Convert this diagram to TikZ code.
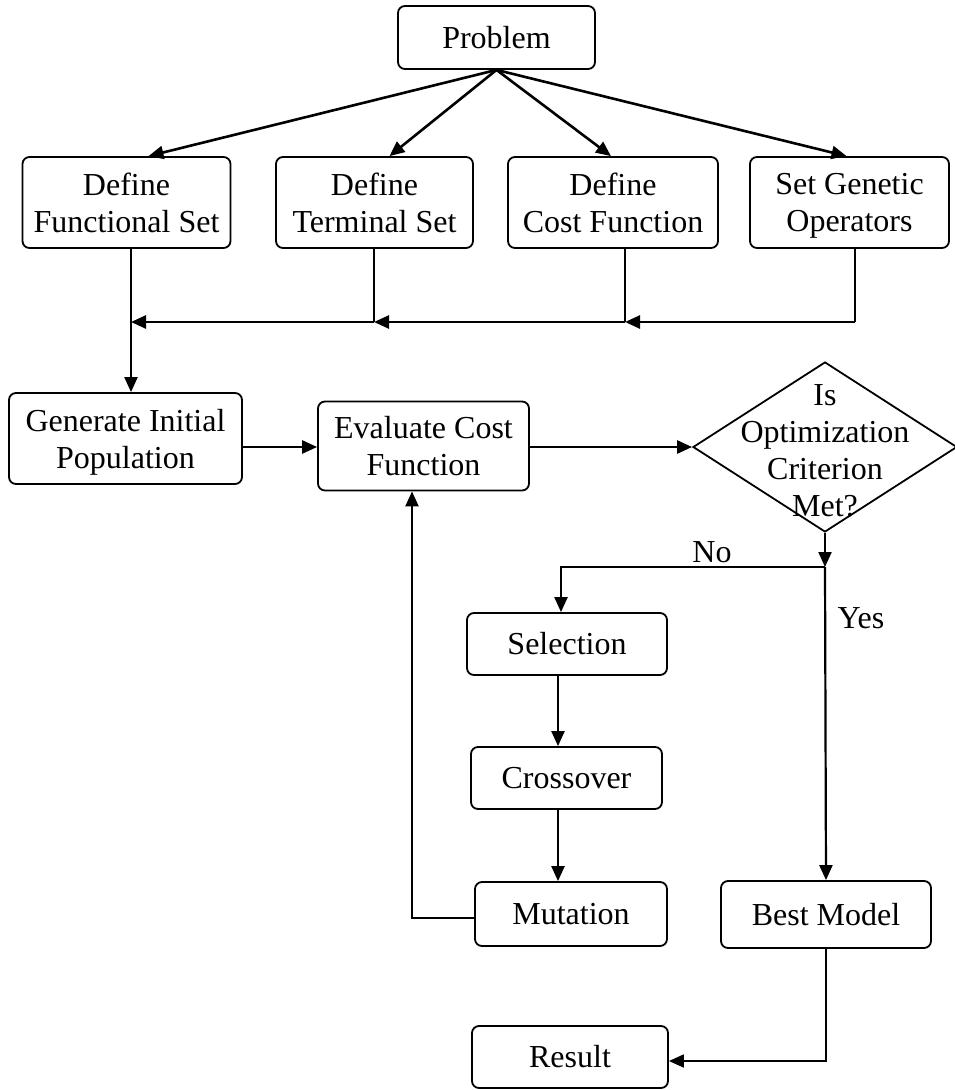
\documentclass[tikz,border=0pt]{standalone}
\usepackage{fontspec}
\setmainfont{Liberation Serif}
\usetikzlibrary{arrows.meta,shapes.geometric,calc}
\begin{document}
\begin{tikzpicture}[x=1pt,y=-1pt,
  box/.style={draw, line width=1.8pt, rounded corners=7pt, align=center, inner sep=0pt,
    font=\fontsize{32}{37}\selectfont},
  lbl/.style={inner sep=0pt, font=\fontsize{32}{37}\selectfont},
  tip/.style={-{Triangle[length=15pt,width=13pt]}},
  thick line/.style={line width=2.6pt},
  thin line/.style={line width=1.4pt}
]
\useasboundingbox (0,0) rectangle (954,1090);
% boxes
\node[box, minimum width=197pt, minimum height=63pt] (prob) at (496.5,37.5) {Problem};
\node[box, minimum width=208pt, minimum height=91pt] (fs) at (126.5,202.5) {Define\\Functional Set};
\node[box, minimum width=197pt, minimum height=91pt] (ts) at (374.5,202.5) {Define\\Terminal Set};
\node[box, minimum width=210pt, minimum height=91pt] (cf) at (613,202.5) {Define\\Cost Function};
\node[box, minimum width=199pt, minimum height=91pt, text depth=0pt] (go) at (849.5,202.5) {Set Genetic\\Operators};
\node[box, minimum width=233pt, minimum height=91pt, text depth=0pt] (gen) at (125.5,438.5) {Generate Initial\\Population};
\node[box, minimum width=211pt, minimum height=89pt] (eval) at (423.5,446) {Evaluate Cost\\Function};
\node[draw, diamond, line width=1.8pt, minimum width=264pt, minimum height=170pt, inner sep=0pt] (crit) at (825,447) {};
\node[lbl, align=center] (crittext) at (825,451) {Is\\Optimization\\Criterion\\Met?};
\node[box, minimum width=200pt, minimum height=62pt] (sel) at (567,644) {Selection};
\node[box, minimum width=191pt, minimum height=62pt] (cross) at (566.5,778) {Crossover};
\node[box, minimum width=192pt, minimum height=64pt] (mut) at (571,914) {Mutation};
\node[box, minimum width=210pt, minimum height=67pt] (best) at (826,914.5) {Best Model};
\node[box, minimum width=196pt, minimum height=62pt] (res) at (570,1057) {Result};
% labels
\node[lbl] (no) at (712,552) {No};
\node[lbl] (yes) at (861,618) {Yes};
% junction coordinates
\coordinate (m1) at (131,322);
\coordinate (m2) at (374,322);
\coordinate (m3) at (625,322);
\coordinate (m4) at (855,322);
\coordinate (ey) at (0,447);
\coordinate (j) at (825,567);
\coordinate (nl) at (561,567);
\coordinate (sx) at (558,0);
\coordinate (lx) at (412,918);
\coordinate (ry) at (826,1061);
% problem to definitions
\draw[thick line, tip] (prob.south) -- ([xshift=22pt]fs.north);
\draw[thick line, tip] (prob.south) -- ([xshift=15pt]ts.north);
\draw[thick line, tip] (prob.south) -- ([xshift=-2pt]cf.north);
\draw[thick line, tip] (prob.south) -- ([xshift=-3pt]go.north);
% merge
\draw[thin line] (ts.south -| m2) -- (m2);
\draw[thin line] (cf.south -| m3) -- (m3);
\draw[thin line] (go.south -| m4) -- (m4);
\draw[thick line, tip] (m4) -- (m3);
\draw[thick line, tip] (m3) -- (m2);
\draw[thick line, tip] (m2) -- (m1);
\draw[thick line, line width=2.2pt, tip] (fs.south -| m1) -- (gen.north -| m1);
% main row
\draw[thick line, tip] (gen.east |- ey) -- (eval.west |- ey);
\draw[thick line, tip] (eval.east |- ey) -- (crit.west);
% decision
\draw[thick line, line width=2.2pt, tip] (crit.south) -- (j);
\draw[thick line, line width=2.2pt, tip] (j) -- (nl) -- (sel.north -| nl);
\draw[thick line, line width=2.2pt, tip] (j) -- (best.north);
% loop
\draw[thick line, line width=2.2pt, tip] (sel.south -| sx) -- (cross.north -| sx);
\draw[thick line, line width=2.2pt, tip] (cross.south -| sx) -- (mut.north -| sx);
\draw[thick line, line width=2.2pt, tip] (mut.west |- lx) -- (lx) -- (eval.south -| lx);
% result
\draw[line width=1.8pt, tip] (best.south) -- (ry) -- (res.east |- ry);
\end{tikzpicture}
\end{document}
